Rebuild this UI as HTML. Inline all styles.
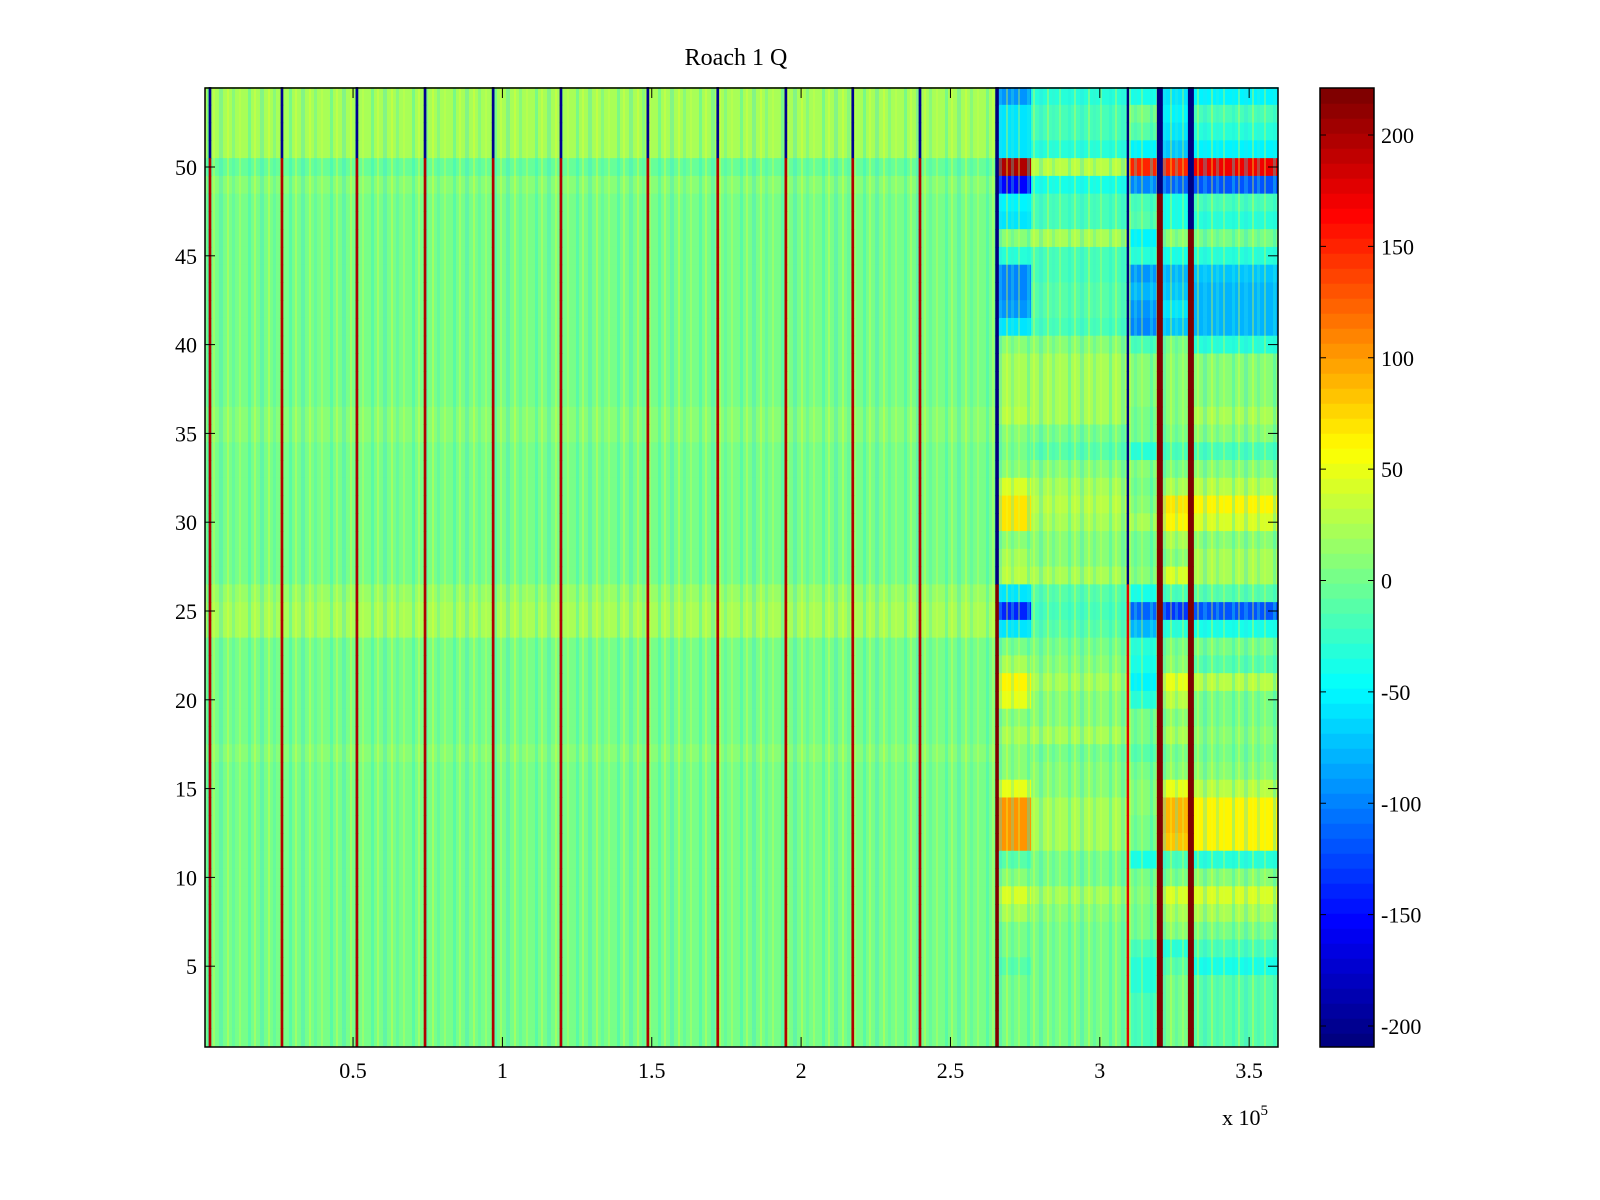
<!DOCTYPE html>
<html><head><meta charset="utf-8"><style>
html,body{margin:0;padding:0;background:#fff;}
svg{display:block;font-family:"Liberation Serif",serif;}
</style></head><body>
<svg id="chart" width="1600" height="1200" viewBox="0 0 1600 1200">
<defs>
<pattern id="tex" x="0" y="0" width="41" height="1200" patternUnits="userSpaceOnUse">
<rect x="2" y="0" width="3" height="1200" fill="#20f0e0" opacity="0.35"/>
<rect x="8" y="0" width="2" height="1200" fill="#e8ff30" opacity="0.35"/>
<rect x="14" y="0" width="4" height="1200" fill="#30e0f0" opacity="0.3"/>
<rect x="22" y="0" width="2" height="1200" fill="#f0ff20" opacity="0.35"/>
<rect x="27" y="0" width="3" height="1200" fill="#40f0d0" opacity="0.3"/>
<rect x="34" y="0" width="2" height="1200" fill="#d0ff40" opacity="0.35"/>
</pattern>
</defs>
<rect width="1600" height="1200" fill="#fff"/>
<g id="cells"></g>
<rect x="205" y="88" width="1073" height="959" fill="url(#tex)"/>
<g id="lines"></g>
<rect x="205" y="88" width="1073" height="959" fill="none" stroke="#000" stroke-width="1.5"/>
<g id="axes"></g>
<g id="cbar"></g>
<text x="736" y="65" font-size="24" text-anchor="middle">Roach 1 Q</text>
<text x="1222" y="1125" font-size="22">x 10<tspan dy="-10" font-size="15">5</tspan></text>
</svg>
<script>
// segment boundaries (x in units of 1e5)
const segEdges = [0, 2.66, 2.77, 3.10, 3.20, 3.30, 3.60];
// row values (rows 54 down to 1) per segment A..F
const segA = [20,20,20,20,-5,10,5,5,5,0,5,5,0,0,0,5,5,5,10,10,5,0,0,0,5,0,0,5,15,25,20,5,0,5,0,0,5,10,0,5,0,0,0,0,5,0,0,5,0,0,0,5,0,0];
const segB = [-90,-60,-60,-60,200,-150,-50,-60,10,-30,-100,-100,-90,-60,10,20,20,20,30,10,0,10,40,70,70,10,20,30,-60,-140,-60,0,20,60,50,10,20,10,10,50,100,100,100,-10,10,40,20,0,0,-10,0,0,0,0];
const segC = [-30,-20,-20,-30,30,-40,-20,-20,20,-20,-20,-10,-10,-20,10,20,20,20,20,0,-10,10,20,30,20,10,10,20,-10,-20,-10,0,10,20,10,10,20,0,10,10,20,20,20,0,0,20,10,0,0,0,0,0,0,0];
const segD = [-40,0,-10,-50,150,-100,-20,-10,-50,-30,-90,-80,-90,-100,-20,10,10,10,0,0,-30,10,0,10,20,0,0,10,-40,-110,-80,-30,-40,-50,-30,0,0,-10,0,10,10,0,0,-40,0,10,0,0,-20,-30,-30,-20,-20,-20];
const segE = [-60,-50,-60,-70,150,-110,-40,-40,10,-40,-80,-70,-60,-70,0,10,10,10,10,0,-20,0,20,70,60,20,10,40,-20,-130,-30,0,10,50,30,10,20,0,10,50,90,90,80,-20,0,40,20,10,-30,-10,0,0,0,0];
const segF = [-50,-20,-30,-50,170,-120,-20,-30,0,-30,-70,-80,-80,-80,-30,10,10,10,20,10,-20,10,30,60,40,10,20,20,-10,-120,-40,0,-10,30,0,0,10,0,10,30,60,60,60,-30,10,40,20,0,-20,-40,-10,-10,-10,-10];
const segVals = [segA, segB, segC, segD, segE, segF];
// spike columns (x in 1e5 units), width in data units, value above/below split row
const lineX = [0.021,0.262,0.513,0.741,0.969,1.196,1.487,1.721,1.949,2.173,2.398,2.656,3.094,3.201,3.305];
const lineW = [0.009,0.009,0.009,0.009,0.009,0.009,0.009,0.009,0.009,0.009,0.009,0.012,0.008,0.02,0.02];
const lineTop = [-200,-200,-200,-200,-200,-200,-200,-200,-200,-200,-200,-210,-210,-210,-210];
const lineBot = [200,200,200,200,200,200,200,200,200,200,200,221,180,221,221];
const lineSplit = [51,51,51,51,51,51,51,51,51,51,51,27,27,49,47];
const yTicks = [5,10,15,20,25,30,35,40,45,50];
const xTicks = [0.5,1,1.5,2,2.5,3,3.5];
const cTicks = [200,150,100,50,0,-50,-100,-150,-200];
const clim = [-210, 221];

const NS = "http://www.w3.org/2000/svg";
const X0=205, X1=1278, Y0=88, Y1=1047;
const xs = v => 203.7 + v*298.7;
const ys = r => 167 + (50-r)*17.76;
function jet(t){
  t=Math.max(0,Math.min(1,t)); t=Math.floor(t*63.999)/63;
  const f=(a)=>Math.max(0,Math.min(1,1.5-Math.abs(4*t-a)));
  return `rgb(${Math.round(255*f(3))},${Math.round(255*f(2))},${Math.round(255*f(1))})`;
}
const col = v => jet((v-clim[0])/(clim[1]-clim[0]));
function mk(tag, attrs, parent){const e=document.createElementNS(NS,tag);for(const k in attrs)e.setAttribute(k,attrs[k]);parent.appendChild(e);return e;}

const cells=document.getElementById('cells');
segVals.forEach((arr,s)=>{
  arr.forEach((v,i)=>{
    const r=54-i;
    const x0=Math.max(X0,xs(segEdges[s])), x1=Math.min(X1,xs(segEdges[s+1]));
    const e=mk('rect',{x:x0,y:ys(r+0.5),width:x1-x0+0.5,height:17.76+0.5,fill:col(v)},cells);
    
    
  });
});
const lines=document.getElementById('lines');
lineX.forEach((lx,j)=>{
  for(let r=54;r>=1;r--){
    const v = r>=lineSplit[j]?lineTop[j]:lineBot[j];
    const w=lineW[j]*298.7;
    const e=mk('rect',{x:xs(lx)-w/2,y:ys(r+0.5),width:w,height:18.26,fill:col(v)},lines);
    
    
  }
});
const axes=document.getElementById('axes');
yTicks.forEach(t=>{
  const y=ys(t);
  mk('line',{x1:X0,x2:X0+10,y1:y,y2:y,stroke:'#000','stroke-width':1},axes);
  mk('line',{x1:X1-10,x2:X1,y1:y,y2:y,stroke:'#000','stroke-width':1},axes);
  const e=mk('text',{x:X0-8,y:y+8,'font-size':22,'text-anchor':'end'},axes);e.textContent=t;
  
  
});
xTicks.forEach(t=>{
  const x=xs(t);
  mk('line',{x1:x,x2:x,y1:Y1,y2:Y1-10,stroke:'#000','stroke-width':1},axes);
  mk('line',{x1:x,x2:x,y1:Y0,y2:Y0+10,stroke:'#000','stroke-width':1},axes);
  const e=mk('text',{x:x,y:Y1+31,'font-size':22,'text-anchor':'middle'},axes);e.textContent=t;
  
  
});
const cb=document.getElementById('cbar');
const CX0=1320,CX1=1374;
const cy = v => 135 + (200-v)*2.2275;
for(let k=0;k<64;k++){
  const a=clim[0]+(clim[1]-clim[0])*k/64, b=clim[0]+(clim[1]-clim[0])*(k+1)/64;
  const e=mk('rect',{x:CX0,y:Math.max(Y0,cy(b)),width:CX1-CX0,height:Math.min(Y1,cy(a))-Math.max(Y0,cy(b))+0.5,fill:jet((k+0.5)/64)},cb);
  
  
}
mk('rect',{x:CX0,y:Y0,width:CX1-CX0,height:Y1-Y0,fill:'none',stroke:'#000','stroke-width':1.5},cb);
cTicks.forEach(t=>{
  const y=cy(t);
  mk('line',{x1:CX0,x2:CX0+6,y1:y,y2:y,stroke:'#000'},cb);
  mk('line',{x1:CX1-6,x2:CX1,y1:y,y2:y,stroke:'#000'},cb);
  const e=mk('text',{x:CX1+7,y:y+8,'font-size':22},cb);e.textContent=t;
  
  
});
</script>
</body></html>
